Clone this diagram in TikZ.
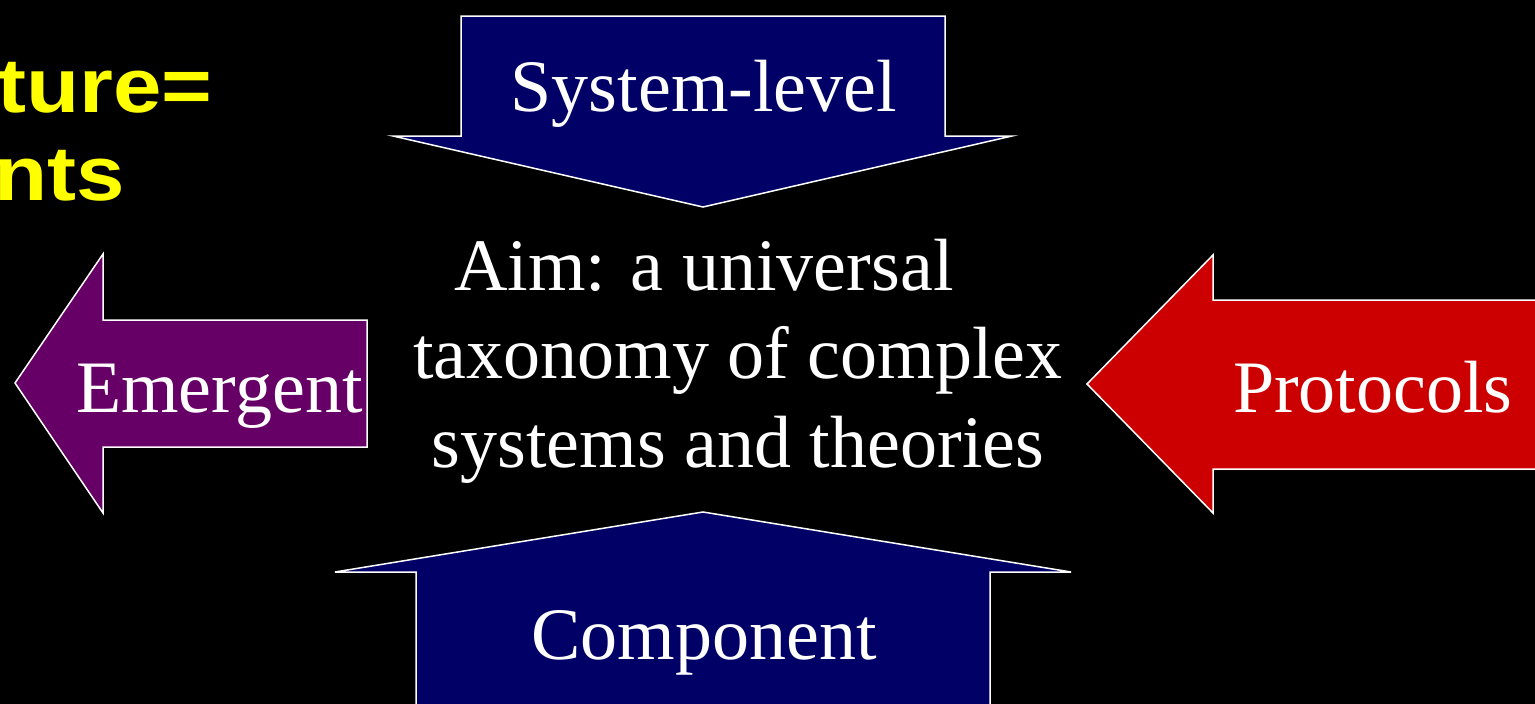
\documentclass[tikz,border=0pt]{standalone}
\usepackage{fontspec}
\setmainfont{Liberation Serif}
\newfontfamily\boldsans{Liberation Sans}
\definecolor{navyfill}{RGB}{0,0,102}
\definecolor{purplefill}{RGB}{102,0,102}
\definecolor{redfill}{RGB}{204,0,0}
\definecolor{titleyellow}{RGB}{255,255,0}
\tikzset{
  arrowshape/.style={draw=white, line width=1.5pt, line join=miter},
  bigtext/.style={text=white, inner sep=0pt, font=\fontsize{74}{88.8}\selectfont},
  yellowtext/.style={text=titleyellow, inner sep=0pt, xscale=1.13, font=\boldsans\bfseries\fontsize{77}{88}\selectfont}
}
\begin{document}
\begin{tikzpicture}[x=1pt,y=-1pt]
\fill[black] (0,0) rectangle (1535,704);
\useasboundingbox (0,0) rectangle (1535,704);
\clip (0,0) rectangle (1535,704);

% yellow clipped title
\node[yellowtext, anchor=base east] (t1) at (213,112) {ture=};
\node[yellowtext, anchor=base east] (t2) at (125,200) {nts};

% System-level (down arrow)
\path[arrowshape, fill=navyfill] (461,16) -- (945,16) -- (945,136) -- (1012,136) -- (703,207) -- (393,136) -- (461,136) -- cycle;
\node[bigtext, anchor=base] (sys) at (704,111) {System-level};

% Component (up arrow)
\path[arrowshape, fill=navyfill] (703,512) -- (1071,572) -- (990,572) -- (990,720) -- (416,720) -- (416,572) -- (335,572) -- cycle;
\node[bigtext, anchor=base] (comp) at (704,659) {Component};

% Emergent (left arrow)
\path[arrowshape, fill=purplefill] (15,383) -- (103,254) -- (103,320) -- (367,320) -- (367,447) -- (103,447) -- (103,513) -- cycle;
\node[bigtext, anchor=base west] (emer) at (76,412) {Emergent};

% Protocols (left arrow)
\path[arrowshape, fill=redfill] (1087,384) -- (1213,255) -- (1213,300) -- (1550,300) -- (1550,469) -- (1213,469) -- (1213,513) -- cycle;
\node[bigtext, anchor=base west] (prot) at (1233,412) {Protocols};

% central text
\node[bigtext, anchor=base west] (aim1) at (454,290) {Aim: a universal};
\node[bigtext, anchor=base] (aim2) at (738,378) {taxonomy of complex};
\node[bigtext, anchor=base] (aim3) at (738,467) {systems and theories};
\end{tikzpicture}
\end{document}
